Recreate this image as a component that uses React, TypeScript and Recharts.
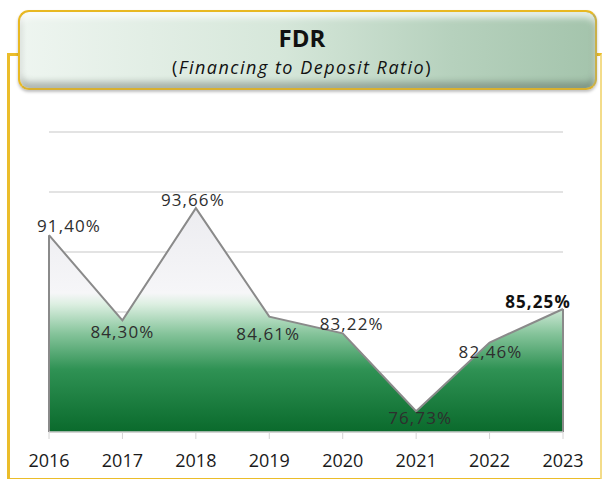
import React from "react";
import {
  AreaChart,
  Area,
  XAxis,
  YAxis,
  CartesianGrid,
  LabelList,
  ReferenceLine,
} from "recharts";

const years = ["2016", "2017", "2018", "2019", "2020", "2021", "2022", "2023"];
const fdrValues = [91.4, 84.3, 93.66, 84.61, 83.22, 76.73, 82.46, 85.25];
const yTicks = [75, 80, 85, 90, 95, 100];

const data = years.map((year, i) => ({ year, fdr: fdrValues[i] }));

// where each value label sits relative to its point
const LABEL_OFFSETS = [
  [20, -10],
  [0, 11],
  [-3, -9],
  [-1, 17],
  [9, -10],
  [4, 6],
  [1, 9],
  [-25, -8],
];

const FONT = "'Open Sans', sans-serif";

const fmt = (v: number) => v.toFixed(2).replace(".", ",") + "%";

const ValueLabel = (props: any) => {
  const { x, y, value, index } = props;
  const [dx, dy] = LABEL_OFFSETS[index] || [0, -10];
  const last = index === fdrValues.length - 1;
  return (
    <text
      x={x + dx}
      y={y + dy}
      textAnchor="middle"
      dominantBaseline="central"
      fontFamily={FONT}
      fontSize={17}
      letterSpacing={1.1}
      fontWeight={last ? 700 : 400}
      fill={last ? "#111" : "#2e2e2e"}
    >
      {fmt(value)}
    </text>
  );
};

export default function App() {
  const first = years[0];
  const last = years[years.length - 1];
  return (
    <div
      style={{
        position: "absolute",
        left: 0,
        top: 0,
        width: 604,
        height: 479,
        background: "#fff",
        overflow: "hidden",
      }}
    >
      {/* yellow frame */}
      <div
        style={{
          position: "absolute",
          left: 7,
          top: 53,
          width: 590,
          height: 422,
          borderLeft: "3px solid #ebbd2a",
          borderTop: "3px solid #ebbd2a",
          borderBottom: "3px solid #ebbd2a",
          borderRight: "2px solid #f3dc8a",
        }}
      />
      <div style={{ position: "absolute", left: 0, top: 0 }}>
        <AreaChart
          width={604}
          height={479}
          data={data}
          margin={{ top: 132, right: 41, bottom: 17, left: 49 }}
        >
          <defs>
            <linearGradient id="fdrFill" x1="0" y1="0" x2="0" y2="1">
              <stop offset="0" stopColor="#ececf0" />
              <stop offset="0.38" stopColor="#f6f6f8" />
              <stop offset="0.43" stopColor="#dcefe1" />
              <stop offset="0.56" stopColor="#86c49b" />
              <stop offset="0.72" stopColor="#2f9254" />
              <stop offset="1" stopColor="#0a6a2c" />
            </linearGradient>
          </defs>
          <CartesianGrid vertical={false} stroke="#dadada" strokeWidth={1.5} />
          <YAxis hide domain={[75, 100]} ticks={yTicks} />
          <XAxis
            dataKey="year"
            height={30}
            tickSize={7}
            tickMargin={15}
            axisLine={{ stroke: "#cfcfcf", strokeWidth: 1.5 }}
            tickLine={{ stroke: "#d4d4d4" }}
            tick={{ fill: "#1a1a1a", fontSize: 18, fontFamily: FONT }}
            interval={0}
          />
          <Area
            type="linear"
            dataKey="fdr"
            baseValue={75}
            stroke="#8a8a8a"
            strokeWidth={2}
            fill="url(#fdrFill)"
            fillOpacity={1}
            isAnimationActive={false}
          >
            <LabelList dataKey="fdr" content={ValueLabel} />
          </Area>
          <ReferenceLine
            segment={[
              { x: first, y: 75 },
              { x: first, y: fdrValues[0] },
            ]}
            stroke="#8a8a8a"
            strokeWidth={2}
          />
          <ReferenceLine
            segment={[
              { x: last, y: 75 },
              { x: last, y: fdrValues[fdrValues.length - 1] },
            ]}
            stroke="#8a8a8a"
            strokeWidth={2}
          />
        </AreaChart>
      </div>
      {/* title box */}
      <div
        style={{
          position: "absolute",
          left: 18,
          top: 10,
          width: 575,
          height: 76,
          borderRadius: 11,
          borderTop: "2px solid #e8b822",
          borderLeft: "2px solid #e8b822",
          borderRight: "2px solid #c9b04a",
          borderBottom: "2px solid #d8b030",
          background:
            "linear-gradient(90deg, #eef5f0 0%, #d6e7da 45%, #b6d1bd 75%, #a4c4ac 100%)",
          boxShadow:
            "inset 0 6px 6px rgba(255,255,255,0.7), inset 0 -6px 6px rgba(60,70,60,0.35), 0 2px 3px rgba(0,0,0,0.25)",
        }}
      />
      <div
        style={{
          position: "absolute",
          left: 0,
          top: 21,
          width: 604,
          textAlign: "center",
          fontFamily: FONT,
          fontSize: 24,
          fontWeight: 700,
          lineHeight: "normal",
          color: "#111",
        }}
      >
        FDR
      </div>
      <div
        style={{
          position: "absolute",
          left: 0,
          top: 55,
          width: 604,
          textAlign: "center",
          fontFamily: FONT,
          fontSize: 18,
          letterSpacing: 1.5,
          lineHeight: "normal",
          color: "#111",
        }}
      >
        (<span style={{ fontStyle: "italic" }}>Financing to Deposit Ratio</span>)
      </div>
    </div>
  );
}
